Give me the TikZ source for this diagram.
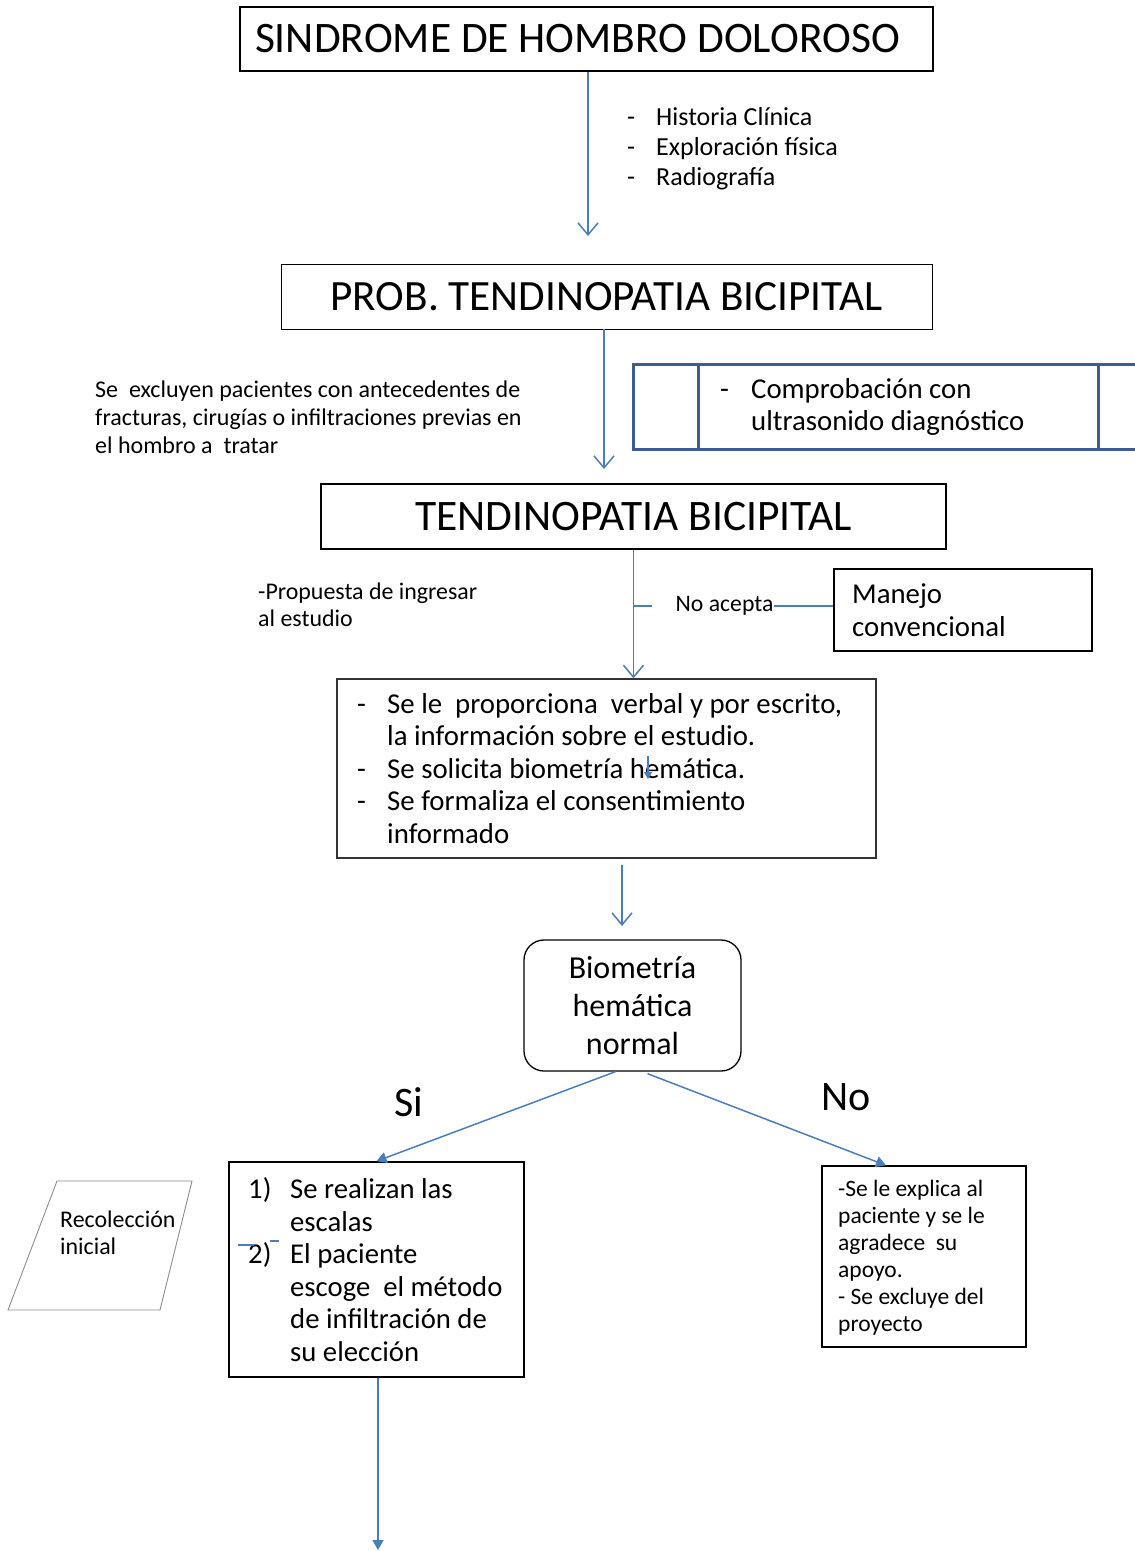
\documentclass[tikz,border=0pt]{standalone}
\usepackage{fontspec}
\setmainfont{Carlito}
\usetikzlibrary{arrows.meta,calc}
\definecolor{arr}{HTML}{4A7EBB}
\definecolor{dblue}{HTML}{3A5F8F}
\definecolor{pgray}{HTML}{8C8C8C}
\newcommand{\fsz}[2]{\fontsize{#1}{#2}\selectfont}
\newcommand{\dsh}[1]{\makebox[#1][l]{-}}
\begin{document}
\begin{tikzpicture}[x=1pt,y=-1pt,
  box/.style={draw=black, line width=1.1pt, rectangle, inner sep=0pt},
  txt/.style={inner sep=0pt, align=left, anchor=west},
  flow/.style={draw=arr, line width=1.5pt, -{Straight Barb[length=12pt,width=20pt,line width=1.5pt]}},
  flowf/.style={draw=arr, line width=1.5pt, -{Triangle[length=10pt,width=11pt]}},
  plain/.style={draw=arr, line width=1.5pt}
]
\useasboundingbox (0,0) rectangle (1135,1551);

% top
\node[box, minimum width=693pt, minimum height=64pt, font=\fsz{43.5}{50}] (sind) at (586.5,39) {SINDROME DE HOMBRO DOLOROSO\hspace*{18pt}};
\node[txt, font=\fsz{26}{30}] (hist) at (627,149) {\dsh{29pt}Historia Clínica\\\dsh{29pt}Exploración física\\\dsh{29pt}Radiografía};
\coordinate (a1e) at (588,236);
\draw[flow] (sind.south -| a1e) -- (a1e);

% prob
\node[box, line width=0.9pt, minimum width=651pt, minimum height=65pt, font=\fsz{43.2}{50}] (prob) at (606.5,296.5) {PROB. TENDINOPATIA BICIPITAL};
\coordinate (a2e) at (604,469);
\draw[flow] (prob.south -| a2e) -- (a2e);

\node[txt, font=\fsz{24}{28}] (excl) at (95,417) {Se~ excluyen pacientes con antecedentes de\\fracturas, cirugías o infiltraciones previas en\\el hombro a~ tratar};

% comprobacion
\node[draw=dblue, line width=3pt, minimum width=518pt, minimum height=85pt, anchor=north west, inner sep=0pt] (comp) at (632,363) {};
\draw[dblue, line width=3pt] ($(comp.north west)+(66,0)$) -- ($(comp.south west)+(66,0)$);
\draw[dblue, line width=3pt] ($(comp.north west)+(466,0)$) -- ($(comp.south west)+(466,0)$);
\node[txt, font=\fsz{28.8}{32}] (compt) at (720,407) {\dsh{31pt}Comprobación con\\\hspace*{31pt}ultrasonido diagnóstico};

% tendinopatia
\node[box, line width=2.5pt, minimum width=625pt, minimum height=65pt, font=\fsz{43.5}{50}] (tend) at (633.5,516.5) {TENDINOPATIA BICIPITAL};

% info box
\node[box, line width=1.3pt, draw=black!80, minimum width=539pt, minimum height=179pt] (info) at (606.5,768.5) {};
\node[txt, font=\fsz{28.8}{32.5}] (infot) at (357,768.5) {\dsh{30pt}Se le~ proporciona~ verbal y por escrito,\\\hspace*{30pt}la información sobre el estudio.\\\dsh{30pt}Se solicita biometría hemática.\\\dsh{30pt}Se formaliza el consentimiento\\\hspace*{30pt}informado};
\draw[flow] (tend.south) -- (tend.south |- info.north);

% no acepta
\node[box, line width=1.3pt, minimum width=258pt, minimum height=82pt] (manejo) at (963,610) {};
\node[txt, font=\fsz{28.8}{33}] (manejot) at (852,610.5) {Manejo\\convencional};
\coordinate (br) at (633,606);
\node[inner sep=0pt, font=\fsz{23.7}{26}] (noac) at (724.5,606) {No acepta};
\draw[plain] (br) -- ++(19,0);
\draw[plain] (noac.east) -- (noac.east -| manejo.west);
\node[txt, font=\fsz{23.9}{27}] (prop) at (258,604.5) {-Propuesta de ingresar\\al estudio};

% small arrow inside info box
\coordinate (sa1) at (648,756);
\coordinate (sa2) at (648,779);
\draw[draw=arr, line width=1.2pt, -{Triangle[length=7pt,width=8pt]}] (sa1) -- (sa2);

% arrow 4
\coordinate (a4s) at (622,865);
\coordinate (a4e) at (622,926);
\draw[flow] (a4s) -- (a4e);

% biometria
\node[draw=black, line width=1.3pt, rounded corners=20pt, minimum width=217pt, minimum height=131pt, align=center, font=\fsz{32}{38}, inner sep=0pt] (bio) at (632.5,1005.5) {Biometría\\hemática\\normal};

% si / no boxes
\node[box, line width=1.6pt, minimum width=295pt, minimum height=215pt] (si) at (376.5,1269.5) {};
\node[txt, font=\fsz{28.7}{32.6}] (sit) at (248,1269.5) {\makebox[42pt][l]{1)}Se realizan las\\\hspace*{42pt}escalas\\\makebox[42pt][l]{2)}El paciente\\\hspace*{42pt}escoge~ el método\\\hspace*{42pt}de infiltración de\\\hspace*{42pt}su elección};
\node[box, line width=1.3pt, minimum width=204pt, minimum height=181pt] (no) at (924,1256.5) {};
\node[txt, font=\fsz{23.5}{27}] (not) at (838,1257.5) {-Se le explica al\\paciente y se le\\agradece~ su\\apoyo.\\- Se excluye del\\proyecto};

\draw[flowf] ($(bio.south)+(-17,0)$) -- (si.north);
\draw[flowf] ($(bio.south)+(15,2)$) -- ($(no.north)+(-38,0)$);
\node[inner sep=0pt, font=\fsz{42}{46}] (silab) at (409,1102) {Si};
\node[inner sep=0pt, font=\fsz{42}{46}] (nolab) at (846,1097) {No};

% stray dashes
\draw[draw=arr, line width=1.1pt] (238,1245) -- (254,1245);
\draw[draw=arr, line width=1.1pt] (270,1241) -- (279,1241);

% recoleccion
\draw[pgray, line width=0.9pt] (57,1181) -- (192,1181) -- (160,1310) -- (8,1310) -- cycle;
\node[txt, font=\fsz{23.9}{27}] (rec) at (60,1232.5) {Recolección\\inicial};

% bottom arrow
\coordinate (a5e) at (378,1550);
\draw[flowf] (si.south -| a5e) -- (a5e);
\end{tikzpicture}
\end{document}
